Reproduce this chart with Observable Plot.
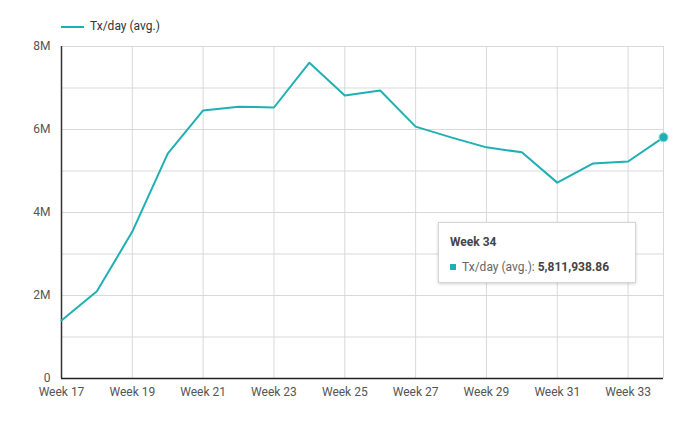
<!DOCTYPE html>
<html>
<head>
<meta charset="utf-8">
<script src="https://cdn.jsdelivr.net/npm/d3@7"></script>
<script src="https://cdn.jsdelivr.net/npm/@observablehq/plot@0.6"></script>
<style>
  body { margin: 0; background: #fff; font-family: Roboto, "Noto Sans", sans-serif; }
  #wrap { position: relative; width: 700px; height: 432px; }
  #legend { height: 40px; position: relative; font-size: 12px; color: #333; }
  #legend .sw { position: absolute; left: 61px; top: 26px; width: 23px; height: 2px; background: #1fb0b4; }
  #legend .lb { position: absolute; left: 90px; top: 19px; }
  #tip { position: absolute; left: 438px; top: 222px; width: 196px; height: 59px; background: #fff;
         border: 1px solid #d6d6d6; box-shadow: 0 1px 3px rgba(0,0,0,0.18); font-size: 12px; color: #444; }
  #tip .t { position: absolute; left: 11px; top: 12px; font-weight: bold; color: #444; }
  #tip .r { position: absolute; left: 23px; top: 37px; color: #666; white-space: nowrap; }
  #tip .r b { color: #444; }
  #tip .sq { position: absolute; left: 11px; top: 41px; width: 6px; height: 6px; background: #1fb0b4; }
</style>
</head>
<body>
<div id="wrap">
  <div id="legend"><div class="sw"></div><div class="lb">Tx/day (avg.)</div></div>
  <div id="chart"></div>
  <div id="tip"><div class="t">Week 34</div><div class="sq"></div><div class="r">Tx/day (avg.): <b>5,811,938.86</b></div></div>
</div>
<script>
const weeks = [17,18,19,20,21,22,23,24,25,26,27,28,29,30,31,32,33,34];
const txPerDay = [1.40e6,2.10e6,3.54e6,5.42e6,6.46e6,6.55e6,6.53e6,7.61e6,6.82e6,6.94e6,6.07e6,5.81e6,5.57e6,5.45e6,4.72e6,5.18e6,5.23e6,5811938.86];
const xTicks = [17,19,21,23,25,27,29,31,33];
const xGrid = [17,19,21,23,25,27,29,31,33,34];
const yTicks = [0,2e6,4e6,6e6,8e6];
const yGrid = [0,1e6,2e6,3e6,4e6,5e6,6e6,7e6,8e6];
const yLabels = ["0","2M","4M","6M","8M"];

const data = weeks.map((w,i) => ({week: w, value: txPerDay[i]}));
const color = "#1fb0b4";

const chart = Plot.plot({
  width: 700,
  height: 392,
  marginTop: 6,
  marginBottom: 54,
  marginLeft: 61,
  marginRight: 37,
  style: {fontFamily: "Roboto, 'Noto Sans', sans-serif", fontSize: "12px", color: "#555", background: "#fff"},
  x: {domain: [17, 34], ticks: xTicks, tickFormat: d => "Week " + d, tickSize: 0, tickPadding: 9, label: null},
  y: {domain: [0, 8e6], ticks: yTicks, tickFormat: d => yLabels[yTicks.indexOf(d)], tickSize: 0, tickPadding: 11, label: null},
  marks: [
    Plot.ruleY(yGrid, {stroke: "#d9d9d9", strokeWidth: 1}),
    Plot.ruleX(xGrid, {stroke: "#d9d9d9", strokeWidth: 1}),
    Plot.ruleX([17], {stroke: "#333", strokeWidth: 1.5}),
    Plot.ruleY([0], {stroke: "#222", strokeWidth: 1.5}),
    Plot.line(data, {x: "week", y: "value", stroke: color, strokeWidth: 2}),
    Plot.dot(data.slice(-1), {x: "week", y: "value", r: 4.5, fill: color, stroke: "#8fdbe0", strokeWidth: 1})
  ]
});
document.getElementById("chart").appendChild(chart);
</script>
</body>
</html>
